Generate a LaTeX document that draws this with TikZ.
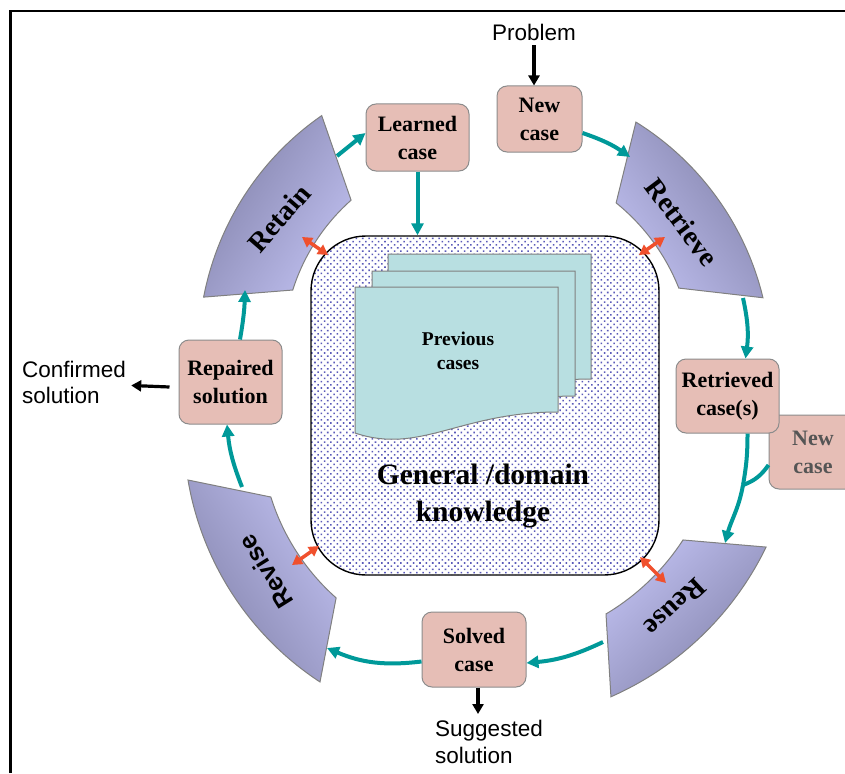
\documentclass[tikz,border=0pt]{standalone}
\usepackage{fontspec}
\setmainfont{Liberation Serif}
\newfontfamily\arial{Liberation Sans}
\usetikzlibrary{arrows.meta,calc,patterns.meta}

\definecolor{caseFill}{RGB}{230,190,182}
\definecolor{caseLine}{RGB}{140,140,140}
\definecolor{flowTeal}{RGB}{0,153,153}
\definecolor{linkRed}{RGB}{240,80,45}
\definecolor{lavLight}{RGB}{190,190,238}
\definecolor{lavDark}{RGB}{130,130,170}
\definecolor{docFill}{RGB}{184,223,225}
\definecolor{dotCol}{RGB}{90,90,185}
\definecolor{greyText}{RGB}{85,85,85}

\tikzset{
  casebox/.style={draw=caseLine, line width=1pt, fill=caseFill, rounded corners=10pt,
    align=center, inner sep=0pt, font=\bfseries\fontsize{22}{28}\selectfont},
  flow/.style={draw=flowTeal, line width=4pt, -{Triangle[length=12pt,width=12pt]}},
  flowline/.style={draw=flowTeal, line width=4pt},
  link/.style={draw=linkRed, line width=3.5pt,
    {Triangle[length=10pt,width=11pt]}-{Triangle[length=10pt,width=11pt]}},
  io/.style={draw=black, line width=3.2pt, -{Triangle[length=10pt,width=11pt]}},
  sector/.style={draw=gray, line width=1pt, left color=lavLight, right color=lavDark},
  stagelabel/.style={font=\bfseries\fontsize{28}{30}\selectfont, inner sep=0pt},
  plaintext/.style={font=\arial\fontsize{22.5}{26}\selectfont, align=left, inner sep=0pt},
  docpage/.style={draw=gray, line width=1pt, fill=docFill},
}

\begin{document}
\begin{tikzpicture}[x=1pt,y=1pt]
\useasboundingbox (0,0) rectangle (845,-773);
\clip (0,0) rectangle (845,-773);

% frame
\draw[line width=2.5pt] (10.3,-773) -- (10.3,-11.2) -- (845,-11.2);

% four stages of the cycle, shaded darker towards the outer rim
\coordinate (cRetrieve) at (485,-365);
\coordinate (cRetain) at (485,-351);
\coordinate (cReuse) at (485,-411);
\coordinate (cRevise) at (485,-430);

\path[sector, shading angle=126]
  ($(cRetrieve)+(58.15:286)$) arc[start angle=58.15, end angle=13.6, radius=286]
  -- ($(cRetrieve)+(21.65:208.5)$) arc[start angle=21.65, end angle=51.03, radius=208.5] -- cycle;
\path[sector, shading angle=237]
  ($(cRetain)+(124.75:286.5)$) arc[start angle=124.75, end angle=169.16, radius=286.5]
  -- ($(cRetain)+(162.4:201.7)$) arc[start angle=162.4, end angle=131.6, radius=201.7] -- cycle;
\path[sector, shading angle=44]
  ($(cReuse)+(-25.83:312.3)$) arc[start angle=-25.83, end angle=-66.22, radius=312.3]
  -- ($(cReuse)+(-59.2:236.3)$) arc[start angle=-59.2, end angle=-33.08, radius=236.3] -- cycle;
\path[sector, shading angle=303]
  ($(cRevise)+(189.56:301.2)$) arc[start angle=189.56, end angle=236.78, radius=301.2]
  -- ($(cRevise)+(228.43:224.4)$) arc[start angle=228.43, end angle=197.38, radius=224.4] -- cycle;

\node[stagelabel, rotate=-53] (retrieve) at (682,-222) {Retrieve};
\node[stagelabel, rotate=49] (retain) at (279,-218) {Retain};
\node[stagelabel, rotate=-137] (reuse) at (675,-607) {Reuse};
\node[stagelabel, rotate=122, font=\arial\bfseries\fontsize{25}{27}\selectfont] (revise) at (266,-572) {Revise};

% knowledge base
\node[draw=black, line width=1.4pt, rounded corners=55pt, minimum width=348pt, minimum height=339pt,
  preaction={fill=white}, pattern={Dots[radius=1.1pt, distance=4.5pt, angle=45]}, pattern color=dotCol]
  (kb) at (485,-405.5) {};

\foreach \dx/\dy in {33/33, 17/16, 0/0} {
  \draw[docpage, shift={(\dx,\dy)}] (355,-287) -- (558,-287) -- (558,-412)
    .. controls (460,-412) and (420,-455) .. (355,-433) -- cycle;
}
\node[font=\bfseries\fontsize{19.5}{24}\selectfont, align=center] (prev) at (458,-351) {Previous\\cases};
\node[font=\bfseries\fontsize{29.5}{37}\selectfont, align=center] (gdk) at (483,-496) {General /domain\\knowledge};

% case boxes
\node[casebox, minimum width=88pt, minimum height=74pt, text=greyText] (nc2) at (813,-452) {New\\case};
\node[casebox, minimum width=85pt, minimum height=66pt] (nc) at (539.5,-119) {New\\case};
\node[casebox, minimum width=103pt, minimum height=67pt] (lc) at (417.5,-137.5) {Learned\\case};
\node[casebox, minimum width=103pt, minimum height=74pt] (rc) at (727.5,-396) {Retrieved\\case(s)};
\node[casebox, minimum width=103pt, minimum height=84pt] (rs) at (230.5,-382) {Repaired\\solution};
\node[casebox, minimum width=104pt, minimum height=75pt] (sc) at (474,-649.5) {Solved\\case};

% outside inputs and outputs
\node[plaintext] (prob) at (534,-32) {Problem};
\node[plaintext, anchor=north west] (conf) at (22,-361) {Confirmed\\solution};
\node[plaintext, anchor=north west, font=\arial\fontsize{22.5}{27}\selectfont] (sugg) at (435,-720) {Suggested\\solution};

\draw[io] ([yshift=-5pt]prob.south) -- (prob.south |- nc.north);
\draw[io] ([xshift=-9pt,yshift=-5pt]rs.west) -- ([xshift=5pt,yshift=-3pt]conf.east);
\draw[io] ([xshift=4pt]sc.south) -- ([xshift=4pt]sc.south |- 0,-714);

% points on the stage outlines
\coordinate (retrieveIn) at (630,-157);
\coordinate (retrieveOut) at (743,-298);
\coordinate (merge) at (743,-485);
\coordinate (reuseIn) at (725,-543);
\coordinate (reuseOut) at (603,-642);
\coordinate (reviseIn) at (327,-648);
\coordinate (reviseOut) at (242,-487);
\coordinate (retainIn) at (245,-290);
\coordinate (retainOut) at (337,-156);

% cycle flow
\draw[flow] ([yshift=-14pt]nc.east) to[bend left=8] (retrieveIn);
\draw[flow] (retrieveOut) to[bend left=10] ([xshift=18pt]rc.north);
\draw[flowline] ([xshift=20pt]rc.south) to[out=-90,in=80] (merge);
\draw[flowline] ([yshift=-13pt]nc2.west) to[out=-125,in=20] (merge);
\draw[flow] (merge) to[out=-100,in=75] (reuseIn);
\draw[flow] (reuseOut) to[bend left=10] ([yshift=-13.5pt]sc.east);
\draw[flow] ([yshift=-12pt]sc.west) to[bend left=15] (reviseIn);
\draw[flow] (reviseOut) to[bend left=8] ([xshift=-3.5pt]rs.south);
\draw[flow] ([xshift=9.5pt]rs.north) to[bend right=4] (retainIn);
\draw[flow] (retainOut) -- ([yshift=4.5pt]lc.west);
\draw[flow] (lc.south) -- (lc.south |- kb.north);

% links between the stages and the knowledge base
\coordinate (retainCorner) at (302,-237);
\coordinate (kbNW) at (328,-255);
\coordinate (retrieveCorner) at (665,-237);
\coordinate (kbNE) at (639,-255);
\coordinate (kbSE) at (640,-557);
\coordinate (reuseCorner) at (666,-583);
\coordinate (kbSW) at (319,-546);
\coordinate (reviseCorner) at (292,-565);
\draw[link] (retainCorner) -- (kbNW);
\draw[link] (retrieveCorner) -- (kbNE);
\draw[link] (kbSE) -- (reuseCorner);
\draw[link] (kbSW) -- (reviseCorner);
\end{tikzpicture}
\end{document}
